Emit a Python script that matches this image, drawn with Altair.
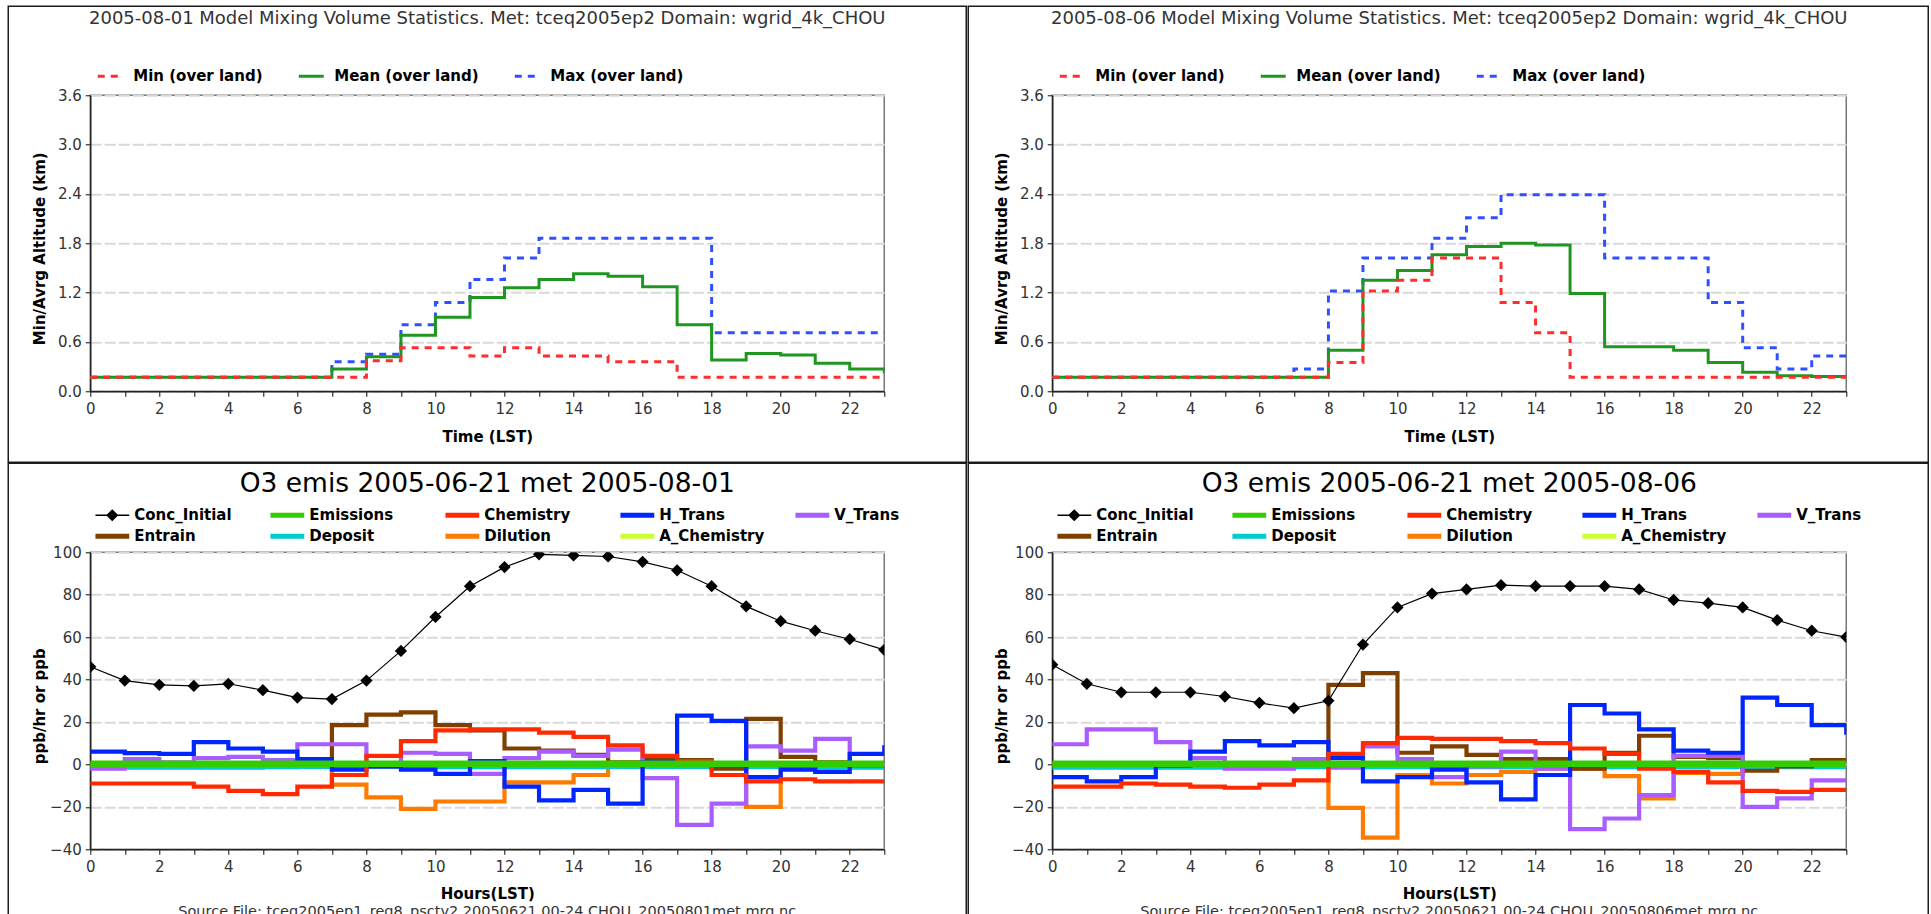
import altair as alt
import pandas as pd

FONT = "DejaVu Sans"

HOURS = [0, 1, 2, 3, 4, 5, 6, 7, 8, 9, 10, 11, 12, 13, 14, 15, 16, 17, 18, 19, 20, 21, 22, 23]

# ---------------- top panels: mixing volume statistics (km) ----------------
TOP_SERIES = ["Min (over land)", "Mean (over land)", "Max (over land)"]
TOP_COLORS = ["#ff2d2d", "#1f961f", "#3050ff"]
TOP_DASHES = [[7, 6], [1, 0], [7, 6]]
TOP_DRAW_ORDER = ["Max (over land)", "Mean (over land)", "Min (over land)"]
TOP_Y_TICKS = [0.0, 0.6, 1.2, 1.8, 2.4, 3.0, 3.6]

MIN_0801 = [0.17, 0.17, 0.17, 0.17, 0.17, 0.17, 0.17, 0.17, 0.37, 0.53, 0.53, 0.43,
            0.53, 0.43, 0.43, 0.36, 0.36, 0.17, 0.17, 0.17, 0.17, 0.17, 0.17, 0.17]
MEAN_0801 = [0.17, 0.17, 0.17, 0.17, 0.17, 0.17, 0.17, 0.27, 0.42, 0.68, 0.90, 1.14,
             1.26, 1.36, 1.43, 1.40, 1.27, 0.81, 0.38, 0.46, 0.44, 0.34, 0.27, 0.22]
MAX_0801 = [0.17, 0.17, 0.17, 0.17, 0.17, 0.17, 0.17, 0.36, 0.45, 0.81, 1.08, 1.36,
            1.62, 1.86, 1.86, 1.86, 1.86, 1.86, 0.71, 0.71, 0.71, 0.71, 0.71, 0.71]

MIN_0806 = [0.17, 0.17, 0.17, 0.17, 0.17, 0.17, 0.17, 0.17, 0.35, 1.22, 1.35, 1.62,
            1.62, 1.08, 0.71, 0.17, 0.17, 0.17, 0.17, 0.17, 0.17, 0.17, 0.17, 0.17]
MEAN_0806 = [0.17, 0.17, 0.17, 0.17, 0.17, 0.17, 0.17, 0.17, 0.50, 1.35, 1.47, 1.66,
             1.76, 1.80, 1.78, 1.19, 0.54, 0.54, 0.50, 0.35, 0.23, 0.19, 0.18, 0.17]
MAX_0806 = [0.17, 0.17, 0.17, 0.17, 0.17, 0.17, 0.17, 0.27, 1.22, 1.62, 1.62, 1.86,
            2.11, 2.39, 2.39, 2.39, 1.62, 1.62, 1.62, 1.08, 0.53, 0.27, 0.43, 0.40]

# ---------------- bottom panels: O3 process budget ----------------
BOT_SERIES = ["Conc_Initial", "Emissions", "Chemistry", "H_Trans", "V_Trans",
              "Entrain", "Deposit", "Dilution", "A_Chemistry"]
BOT_COLORS = ["#000000", "#33cc00", "#ff2a00", "#0026ff", "#a95cff",
              "#7f3f00", "#00cccc", "#ff7b00", "#ccff33"]
STEP_DRAW_ORDER = ["A_Chemistry", "Dilution", "Deposit", "Entrain", "V_Trans", "H_Trans", "Chemistry"]
BOT_Y_TICKS = [-40, -20, 0, 20, 40, 60, 80, 100]

CONC_0801 = [46.0, 39.5, 37.5, 37.0, 38.0, 35.0, 31.5, 30.8, 39.5, 53.5, 69.5, 84.0,
             93.0, 99.0, 98.5, 98.0, 95.5, 91.5, 84.0, 74.5, 67.5, 63.0, 59.0, 54.0]
EMIS_0801 = [0.3, 0.3, 0.3, 0.3, 0.3, 0.3, 0.3, 0.3, 0.3, 0.3, 0.3, 0.3,
             0.3, 0.3, 0.3, 0.3, 0.3, 0.3, 0.3, 0.3, 0.3, 0.3, 0.3, 0.3]
CHEM_0801 = [-9.0, -9.0, -9.0, -10.5, -12.5, -14.0, -10.5, -5.0, 4.0, 11.0, 16.0, 16.5,
             16.5, 15.0, 13.0, 9.0, 4.0, 1.5, -5.0, -8.0, -7.0, -8.0, -8.0, -8.0]
HTRANS_0801 = [6.0, 5.3, 5.0, 10.5, 7.5, 6.0, 2.5, -2.5, -1.0, -2.5, -4.5, 1.5,
               -10.5, -17.0, -12.0, -18.5, 1.0, 23.0, 20.5, -6.0, -2.5, -3.5, 5.0, 9.0]
VTRANS_0801 = [-2.0, 2.5, 1.0, 3.0, 3.5, 2.0, 9.5, 9.5, -1.0, 5.5, 5.0, -4.5,
               3.0, 6.0, 4.0, 7.0, -6.5, -28.5, -18.5, 8.5, 6.5, 12.0, -0.5, -1.0]
ENTRAIN_0801 = [0.0, 0.0, 0.0, 0.0, 0.0, 0.0, 0.0, 18.5, 23.5, 24.5, 18.5, 16.0,
                7.5, 6.5, 4.5, 1.0, 2.0, 2.0, -2.0, 21.5, 3.5, 1.0, -0.5, 0.0]
DEPOSIT_0801 = [-1.5, -1.5, -1.5, -1.5, -1.5, -1.3, -1.2, -1.2, -1.2, -1.3, -1.3, -1.3,
                -1.3, -1.3, -1.3, -1.2, -1.2, -1.2, -1.2, -1.2, -1.2, -1.3, -1.3, -1.3]
DILUTION_0801 = [0.0, 0.0, 0.0, 0.0, 0.0, 0.0, 0.0, -9.5, -15.5, -21.0, -17.5, -17.5,
                 -8.5, -8.5, -5.0, -1.0, -1.0, 0.0, -1.0, -20.0, -2.0, -1.5, -1.5, -1.5]
ACHEM_0801 = [0.0, 0.0, 0.0, 0.0, 0.0, 0.0, 0.0, 0.0, 0.0, 0.0, 0.0, 0.0,
              0.0, 0.0, 0.0, 0.0, 0.0, 0.0, 0.0, 0.0, 0.0, 0.0, 0.0, 0.0]

CONC_0806 = [47.0, 38.0, 34.0, 34.0, 34.0, 32.0, 29.0, 26.5, 30.0, 56.5, 74.0, 80.5,
             82.5, 84.5, 84.0, 84.0, 84.0, 82.5, 77.5, 76.0, 74.0, 68.0, 63.0, 60.0]
EMIS_0806 = [0.3, 0.3, 0.3, 0.3, 0.3, 0.3, 0.3, 0.3, 0.3, 0.3, 0.3, 0.3,
             0.3, 0.3, 0.3, 0.3, 0.3, 0.3, 0.3, 0.3, 0.3, 0.3, 0.3, 0.3]
CHEM_0806 = [-10.5, -10.5, -9.0, -9.5, -10.5, -11.0, -9.5, -7.5, 5.0, 10.0, 12.5, 12.0,
             12.0, 11.0, 10.0, 7.5, 5.0, -2.0, -3.5, -8.5, -12.5, -13.0, -12.0, -12.0]
HTRANS_0806 = [-6.0, -8.0, -6.0, -0.5, 6.0, 11.0, 9.0, 10.5, 3.0, -8.0, -6.0, -2.5,
               -8.5, -16.5, -5.0, 28.0, 24.0, 16.5, 6.5, 5.5, 31.5, 28.0, 18.5, 14.0]
VTRANS_0806 = [9.5, 16.5, 16.5, 10.5, 3.0, -2.0, -2.0, 2.5, -1.5, 8.5, 2.5, -6.0,
               -1.0, 6.0, -2.0, -30.5, -25.5, -14.5, 4.0, 4.0, -20.0, -16.0, -7.5, -7.0]
ENTRAIN_0806 = [0.0, 0.0, 0.0, 0.0, 0.0, 0.0, 0.0, 0.0, 37.5, 43.0, 5.5, 8.5,
                4.5, 2.5, 2.5, -2.0, 5.5, 13.5, 3.5, 3.0, -3.0, -1.0, 2.0, 2.0]
DEPOSIT_0806 = [-1.5, -1.5, -1.5, -1.5, -1.5, -1.4, -1.3, -1.3, -1.2, -1.3, -1.3, -1.3,
                -1.3, -1.3, -1.3, -1.3, -1.3, -1.3, -1.3, -1.3, -1.3, -1.3, -1.3, -1.3]
DILUTION_0806 = [0.0, 0.0, 0.0, 0.0, 0.0, 0.0, 0.0, 0.0, -20.5, -34.5, -5.0, -9.0,
                 -5.0, -3.5, -2.0, -2.0, -5.5, -16.0, -4.0, -4.5, -1.0, -1.0, -1.0, -1.0]
ACHEM_0806 = [0.0, 0.0, 0.0, 0.0, 0.0, 0.0, 0.0, 0.0, 0.0, 0.0, 0.0, 0.0,
              0.0, 0.0, 0.0, 0.0, 0.0, 0.0, 0.0, 0.0, 0.0, 0.0, 0.0, 0.0]

TITLE_0801 = "2005-08-01 Model Mixing Volume Statistics. Met: tceq2005ep2 Domain: wgrid_4k_CHOU"
TITLE_0806 = "2005-08-06 Model Mixing Volume Statistics. Met: tceq2005ep2 Domain: wgrid_4k_CHOU"
O3_TITLE_0801 = "O3 emis 2005-06-21 met 2005-08-01"
O3_TITLE_0806 = "O3 emis 2005-06-21 met 2005-08-06"
SRC_0801 = "Source File: tceq2005ep1_reg8_psctv2.20050621.00-24.CHOU_20050801met.mrg.nc"
SRC_0806 = "Source File: tceq2005ep1_reg8_psctv2.20050621.00-24.CHOU_20050806met.mrg.nc"

# ---------------- layout / legend symbols ----------------
W = 794
H_TOP = 296
H_BOT = 297
# legend glyphs (unit-square SVG paths): a thin line with a diamond, and a thick bar
CONC_GLYPH = "M-1,-0.045H1V0.045H-1ZM0,-0.36L0.36,0L0,0.36L-0.36,0Z"
BAR_GLYPH = "M-1,-0.15H1V0.15H-1Z"
BOT_GLYPHS = [CONC_GLYPH if s == "Conc_Initial" else BAR_GLYPH for s in BOT_SERIES]


def long_frame(values, order):
    rows = []
    for name in order:
        for h, v in zip(HOURS, values[name]):
            rows.append({"hour": h, "value": v, "series": name})
    return pd.DataFrame(rows)


def x_axis(title, title_y):
    return alt.Axis(title=title, values=HOURS,
                    labelExpr="datum.value % 2 === 0 ? datum.label : ''",
                    labelFlush=False, labelPadding=5, titleY=title_y, titleBaseline="middle")


def frame(left, bottom):
    return alt.Chart(pd.DataFrame({"k": [0]})).mark_rect(
        filled=False, stroke="#1c1c1c", strokeWidth=1.5
    ).encode(x=alt.value(left), x2=alt.value(876), y=alt.value(-89), y2=alt.value(bottom))


def mixing_panel(title, mins, means, maxs, left):
    vals = {"Min (over land)": mins, "Mean (over land)": means, "Max (over land)": maxs}
    df = long_frame(vals, TOP_DRAW_ORDER)
    legend = alt.Legend(title=None, orient="none", legendX=6, legendY=-28, direction="horizontal",
                        symbolType="stroke", symbolSize=625, symbolStrokeWidth=3, clipHeight=18,
                        labelFont=FONT, labelFontSize=15, labelFontWeight="bold", labelColor="#000",
                        labelOffset=9, columnPadding=34, padding=0)
    lines = alt.Chart(df).mark_line(interpolate="step-after", strokeWidth=3, clip=True).encode(
        x=alt.X("hour:Q", scale=alt.Scale(domain=[0, 23], nice=False), axis=x_axis("Time (LST)", 45)),
        y=alt.Y("value:Q", scale=alt.Scale(domain=[0, 3.6], nice=False),
                axis=alt.Axis(title="Min/Avrg Altitude (km)", values=TOP_Y_TICKS, format=".1f",
                              labelFlush=False, titleX=-51, titleY=153, titleBaseline="middle")),
        color=alt.Color("series:N", scale=alt.Scale(domain=TOP_SERIES, range=TOP_COLORS), legend=legend),
        strokeDash=alt.StrokeDash("series:N", scale=alt.Scale(domain=TOP_SERIES, range=TOP_DASHES),
                                  legend=legend),
    )
    return alt.layer(lines, frame(left, 367)).properties(
        width=W, height=H_TOP,
        title=alt.Title(title, font=FONT, fontSize=18, fontWeight="normal", color="#333",
                        anchor="middle", frame="group", offset=-22.75),
    )


def budget_panel(title, src, conc, emis, chem, htrans, vtrans, entrain, deposit, dilution, achem, left):
    vals = {"Conc_Initial": conc, "Emissions": emis, "Chemistry": chem, "H_Trans": htrans,
            "V_Trans": vtrans, "Entrain": entrain, "Deposit": deposit, "Dilution": dilution,
            "A_Chemistry": achem}
    df_steps = long_frame(vals, STEP_DRAW_ORDER)
    df_emis = long_frame(vals, ["Emissions"])
    df_conc = long_frame(vals, ["Conc_Initial"])
    df_keys = pd.DataFrame({"series": BOT_SERIES})

    legend = alt.Legend(
        title=None, orient="none", legendX=5, legendY=-46.5, direction="horizontal", columns=5,
        gridAlign="all", columnPadding=30, rowPadding=2, clipHeight=19,
        symbolSize=1156, symbolStrokeWidth=0, symbolOpacity=1,
        labelFont=FONT, labelFontSize=15, labelFontWeight="bold", labelColor="#000",
        labelOffset=5, padding=0,
    )
    x = alt.X("hour:Q", scale=alt.Scale(domain=[0, 23], nice=False), axis=x_axis("Hours(LST)", 44))
    y = alt.Y("value:Q", scale=alt.Scale(domain=[-40, 100], nice=False),
              axis=alt.Axis(title="ppb/hr or ppb", values=BOT_Y_TICKS, labelFlush=False,
                            titleX=-51, titleY=153.5, titleBaseline="middle"))
    color = alt.Color("series:N", scale=alt.Scale(domain=BOT_SERIES, range=BOT_COLORS), legend=None)

    steps = alt.Chart(df_steps).mark_line(interpolate="step-after", strokeWidth=4.2, clip=True).encode(
        x=x, y=y, color=color)
    emis_line = alt.Chart(df_emis).mark_line(interpolate="step-after", strokeWidth=6.5, clip=True).encode(
        x=x, y=y, color=color)
    conc_line = alt.Chart(df_conc).mark_line(strokeWidth=1.2, clip=True).encode(x=x, y=y, color=color)
    conc_pts = alt.Chart(df_conc).mark_point(shape="diamond", filled=True, size=150, opacity=1,
                                             color="#000000", clip=True).encode(x=x, y=y)
    # legend keys only (invisible marks carrying the legend glyphs)
    keys = alt.Chart(df_keys).mark_point(filled=True, opacity=0, size=1156).encode(
        x=alt.value(0), y=alt.value(0),
        color=alt.Color("series:N", scale=alt.Scale(domain=BOT_SERIES, range=BOT_COLORS), legend=legend),
        shape=alt.Shape("series:N", scale=alt.Scale(domain=BOT_SERIES, range=BOT_GLYPHS), legend=legend),
    )
    source = alt.Chart(pd.DataFrame({"k": [0]})).mark_text(
        font=FONT, fontSize=14.5, color="#333", align="center", baseline="alphabetic"
    ).encode(x=alt.value(397), y=alt.value(364), text=alt.value(src))

    return alt.layer(steps, emis_line, conc_line, conc_pts, keys, frame(left, 380), source).resolve_scale(
        color="independent", shape="independent"
    ).resolve_legend(
        color="independent", shape="independent"
    ).properties(
        width=W, height=H_BOT,
        title=alt.Title(title, font=FONT, fontSize=26.5, fontWeight="normal", color="#000",
                        anchor="middle", frame="group", offset=-34.75),
    )


p1 = mixing_panel(TITLE_0801, MIN_0801, MEAN_0801, MAX_0801, -82)
p2 = mixing_panel(TITLE_0806, MIN_0806, MEAN_0806, MAX_0806, -84)
p3 = budget_panel(O3_TITLE_0801, SRC_0801, CONC_0801, EMIS_0801, CHEM_0801, HTRANS_0801, VTRANS_0801,
                  ENTRAIN_0801, DEPOSIT_0801, DILUTION_0801, ACHEM_0801, -82)
p4 = budget_panel(O3_TITLE_0806, SRC_0806, CONC_0806, EMIS_0806, CHEM_0806, HTRANS_0806, VTRANS_0806,
                  ENTRAIN_0806, DEPOSIT_0806, DILUTION_0806, ACHEM_0806, -84)

chart = alt.concat(
    p1, p2, p3, p4, columns=2, spacing={"row": 161, "column": 168}, bounds="flush"
).resolve_scale(
    color="independent", strokeDash="independent", shape="independent", x="independent", y="independent"
).resolve_legend(
    color="independent", strokeDash="independent", shape="independent"
).properties(
    padding={"left": 6.25, "top": 4.25, "right": 0, "bottom": -17.75},
    background="white",
).configure_axis(
    labelFont=FONT, labelFontSize=15, labelColor="#333",
    titleFont=FONT, titleFontSize=15, titleFontWeight="bold", titleColor="#000",
    domainColor="#222", domainWidth=1.5, tickColor="#333", tickWidth=1.2, tickSize=5,
).configure_axisY(
    grid=True, gridColor="#d9d9d9", gridWidth=2, gridDash=[11, 3], labelPadding=4,
).configure_axisX(
    grid=False,
).configure_view(
    stroke="#777", strokeWidth=1.5,
)

chart.save("out.html", embed_options={"renderer": "svg", "actions": False})
